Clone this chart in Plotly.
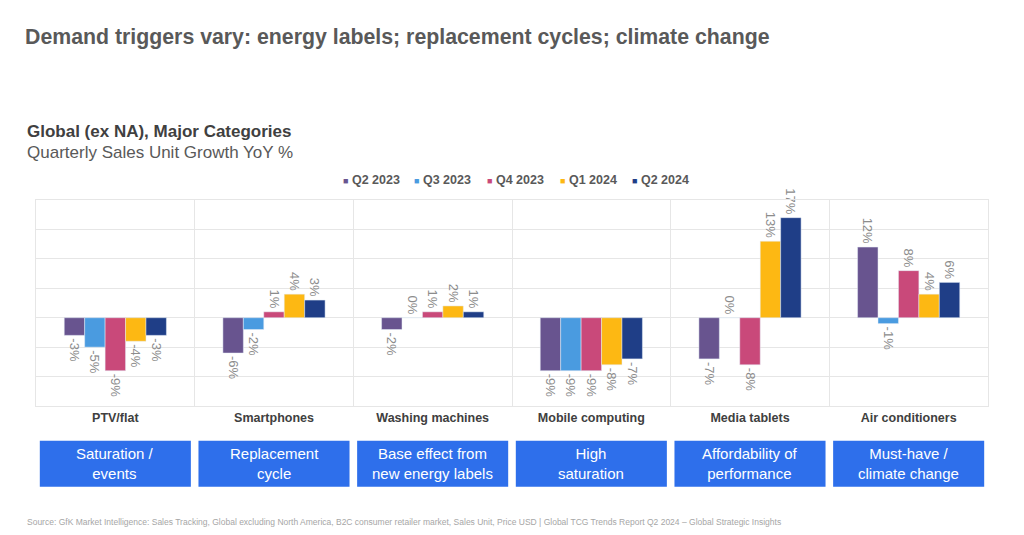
import plotly.graph_objects as go

# Categories and quarterly YoY unit growth (%)
categorias = ["PTV/flat", "Smartphones", "Washing machines", "Mobile computing",
              "Media tablets", "Air conditioners"]
drivers = ["Saturation /<br>events", "Replacement<br>cycle", "Base effect from<br>new energy labels",
           "High<br>saturation", "Affordability of<br>performance", "Must-have /<br>climate change"]

trimestres = ["Q2 2023", "Q3 2023", "Q4 2023", "Q1 2024", "Q2 2024"]
q2_2023 = [-3, -6, -2, -9, -7, 12]
q3_2023 = [-5, -2, 0, -9, 0, -1]
q4_2023 = [-9, 1, 1, -9, -8, 8]
q1_2024 = [-4, 4, 2, -8, 13, 4]
q2_2024 = [-3, 3, 1, -7, 17, 6]
series = [q2_2023, q3_2023, q4_2023, q1_2024, q2_2024]
colores = ["#68548F", "#4A9BE0", "#C9497A", "#FDB813", "#1F3E87"]

FUENTE = "Liberation Sans, Arial, sans-serif"
OFF = 8  # the page body adds an 8px margin
W, H = 1024 - OFF, 535 - OFF
PLOT_L, PLOT_R, PLOT_T, PLOT_B = 36, 988, 200, 406  # target pixels in the page
M_L, M_R = PLOT_L - OFF, W - (PLOT_R - OFF)
M_T, M_B = PLOT_T - OFF, H - (PLOT_B - OFF)
PLOT_H = PLOT_B - PLOT_T
PLOT_W = PLOT_R - PLOT_L

# left edge of each legend entry (page pixels)
LEYENDA_X = [341, 412, 485, 558, 630]


def py(pix):
    # page pixel row -> paper y
    return (PLOT_B - pix) / PLOT_H


def px(pix):
    return (pix - PLOT_L) / PLOT_W


fig = go.Figure()

for nombre, valores, color in zip(trimestres, series, colores):
    fig.add_trace(
        go.Bar(
            name=nombre,
            x=categorias,
            y=valores,
            marker_color=color,
            text=[f"{v}%" for v in valores],
            textposition="outside",
            textangle=90,
            textfont=dict(color="#8C8C8C", size=13, family=FUENTE),
            constraintext="none",
            cliponaxis=False,
            showlegend=False,
        )
    )

fig.update_layout(
    width=W,
    height=H,
    barmode="group",
    bargap=0.356,
    bargroupgap=0,
    plot_bgcolor="white",
    paper_bgcolor="white",
    margin=dict(l=M_L, r=M_R, t=M_T, b=M_B),
    font=dict(family=FUENTE, color="#404040"),
    title=dict(
        text="<b>Demand triggers vary: energy labels; replacement cycles; climate change</b>",
        font=dict(size=21.3, color="#595959", family=FUENTE),
        xref="container", yref="container",
        x=(25 - OFF) / W, y=1 - (37 - OFF) / H, xanchor="left", yanchor="middle",
    ),
)

# compact legend like the original (small square + bold label)
for nombre, color, xl in zip(trimestres, colores, LEYENDA_X):
    fig.add_annotation(
        text=f"<span style='color:{color};font-size:9px'>■</span> <b>{nombre}</b>",
        xref="paper", yref="paper", x=px(xl), y=py(180),
        xanchor="left", yanchor="middle", showarrow=False,
        font=dict(size=12.5, color="#595959", family=FUENTE),
    )

fig.update_xaxes(
    tickson="boundaries",
    showgrid=True,
    gridcolor="#E6E6E6",
    showline=True,
    mirror=True,
    linecolor="#E6E6E6",
    ticks="",
    tickfont=dict(size=12.5, color="#404040", family=FUENTE, weight="bold"),
)
fig.update_yaxes(
    range=[-15, 20],
    dtick=5,
    showticklabels=False,
    showgrid=True,
    gridcolor="#E6E6E6",
    zeroline=True,
    zerolinecolor="#E6E6E6",
    zerolinewidth=1,
    showline=True,
    mirror=True,
    linecolor="#E6E6E6",
)

# subtitles
fig.add_annotation(text="<b>Global (ex NA), Major Categories</b>", xref="paper", yref="paper",
                   x=px(25), y=py(132), xanchor="left", yanchor="middle", showarrow=False,
                   font=dict(size=17, color="#404040", family=FUENTE))
fig.add_annotation(text="Quarterly Sales Unit Growth YoY %", xref="paper", yref="paper",
                   x=px(25), y=py(152), xanchor="left", yanchor="middle", showarrow=False,
                   font=dict(size=17, color="#595959", family=FUENTE))

# blue driver boxes under each category
for i, (cat, txt) in enumerate(zip(categorias, drivers)):
    fig.add_shape(type="rect", xref="x", yref="paper",
                  x0=i - 0.476, x1=i + 0.476, y0=py(486.7), y1=py(440.7),
                  fillcolor="#2E6FEB", line=dict(width=0), layer="above")
    fig.add_annotation(text=txt, xref="x", yref="paper", x=cat, y=py(463.7),
                       xanchor="center", yanchor="middle", showarrow=False,
                       font=dict(size=15, color="white", family=FUENTE))

fig.add_annotation(
    text=("Source: GfK Market Intelligence: Sales Tracking, Global excluding North America, "
          "B2C consumer retailer market, Sales Unit, Price USD | Global TCG Trends Report Q2 2024 "
          "– Global Strategic Insights"),
    xref="paper", yref="paper", x=px(25), y=py(522), xanchor="left", yanchor="middle",
    showarrow=False, font=dict(size=8.5, color="#A6A6A6", family=FUENTE),
)

fig.write_html("out.html")
